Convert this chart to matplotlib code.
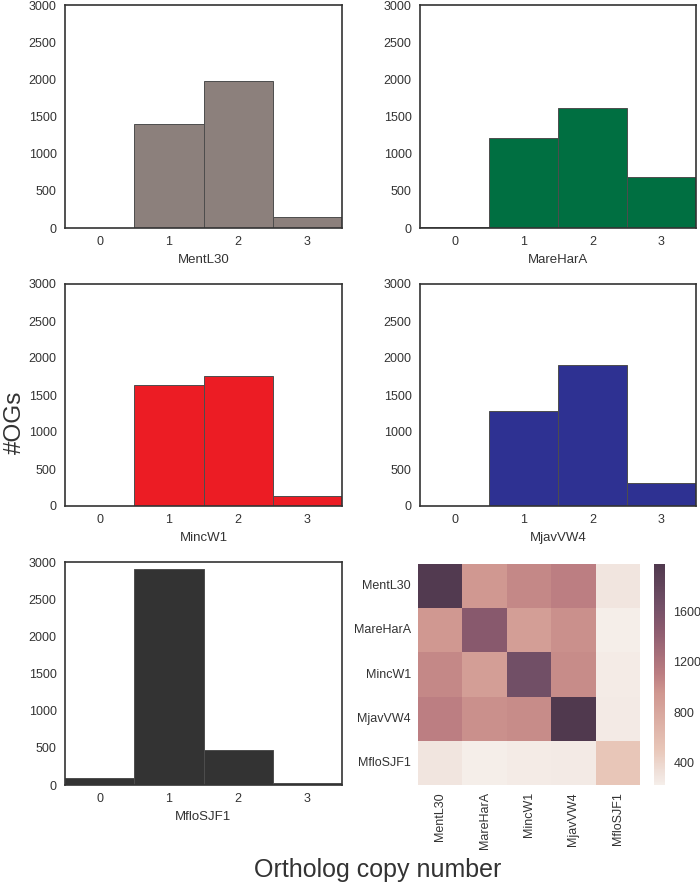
import numpy as np
import matplotlib
matplotlib.use("Agg")
import matplotlib.pyplot as plt
from matplotlib.colors import LinearSegmentedColormap
import seaborn as sns

sns.set_style("white")
plt.rcParams['font.family'] = ['Liberation Sans', 'DejaVu Sans']

species = ["MentL30", "MareHarA", "MincW1", "MjavVW4", "MfloSJF1"]
copy_numbers = [0, 1, 2, 3]
counts_MentL30 = [5, 1400, 1980, 150]
counts_MareHarA = [10, 1210, 1620, 680]
counts_MincW1 = [5, 1630, 1750, 130]
counts_MjavVW4 = [5, 1290, 1910, 310]
counts_MfloSJF1 = [100, 2910, 470, 30]
colors = ["#8c807c", "#006f41", "#ec1c24", "#2e3192", "#333333"]

overlap = [
    [1960, 940, 1040, 1100, 290],
    [940, 1480, 880, 990, 216],
    [1040, 880, 1660, 1020, 240],
    [1100, 990, 1020, 1984, 250],
    [290, 216, 240, 250, 500],
]

all_counts = [counts_MentL30, counts_MareHarA, counts_MincW1, counts_MjavVW4, counts_MfloSJF1]

W, H = 700, 888
fig = plt.figure(figsize=(7, 8.88), dpi=100)

def rect(x0, y0, x1, y1):
    return [x0 / W, 1 - y1 / H, (x1 - x0) / W, (y1 - y0) / H]

positions = [
    rect(65, 5, 342, 228),
    rect(420, 5, 696, 228),
    rect(65, 284, 342, 506),
    rect(420, 284, 696, 506),
    rect(65, 562, 342, 785),
]

for i, (name, vals, col) in enumerate(zip(species, all_counts, colors)):
    ax = fig.add_axes(positions[i])
    ax.bar(copy_numbers, vals, width=1.0, color=col, edgecolor="0.3", linewidth=0.7)
    ax.set_xlim(-0.5, 3.5)
    ax.set_ylim(0, 3000)
    ax.set_yticks([0, 500, 1000, 1500, 2000, 2500, 3000])
    ax.set_xticks(copy_numbers)
    ax.tick_params(labelsize=9, colors=".2", length=0, pad=6)
    ax.set_xlabel(name, fontsize=9.5, color=".2", labelpad=4)
    for s in ax.spines.values():
        s.set_color(".2")
        s.set_linewidth(1.2)

cmap = LinearSegmentedColormap.from_list("muted", [
    (0.0, "#f5eee9"),
    (0.05, "#f0e2dc"),
    (0.16, "#e8c6b8"),
    (0.42, "#cf968f"),
    (0.5, "#bc7e82"),
    (0.71, "#8a5a6e"),
    (0.81, "#735067"),
    (1.0, "#50394e"),
])

hax = fig.add_axes(rect(418, 564, 640, 785))
cax = fig.add_axes(rect(654, 564, 665, 785))
sns.heatmap(np.array(overlap), ax=hax, cbar_ax=cax, cmap=cmap,
            xticklabels=species, yticklabels=species)
hax.tick_params(labelsize=9, colors=".2", length=0, pad=5)
plt.setp(hax.get_xticklabels(), rotation=90, va="top", ha="center")
plt.setp(hax.get_yticklabels(), rotation=0)
cax.tick_params(labelsize=9, colors=".2", length=0, pad=6)
cax.set_yticks([400, 800, 1200, 1600])
cax.set_frame_on(False)

fig.text(15 / W, 1 - 422 / H, "#OGs", rotation=90, fontsize=17.5, color=".2",
         ha="center", va="center")
fig.text(378 / W, 1 - 877 / H, "Ortholog copy number", fontsize=18, color=".2",
         ha="center", va="baseline")

fig.savefig("out.png", dpi=100)
